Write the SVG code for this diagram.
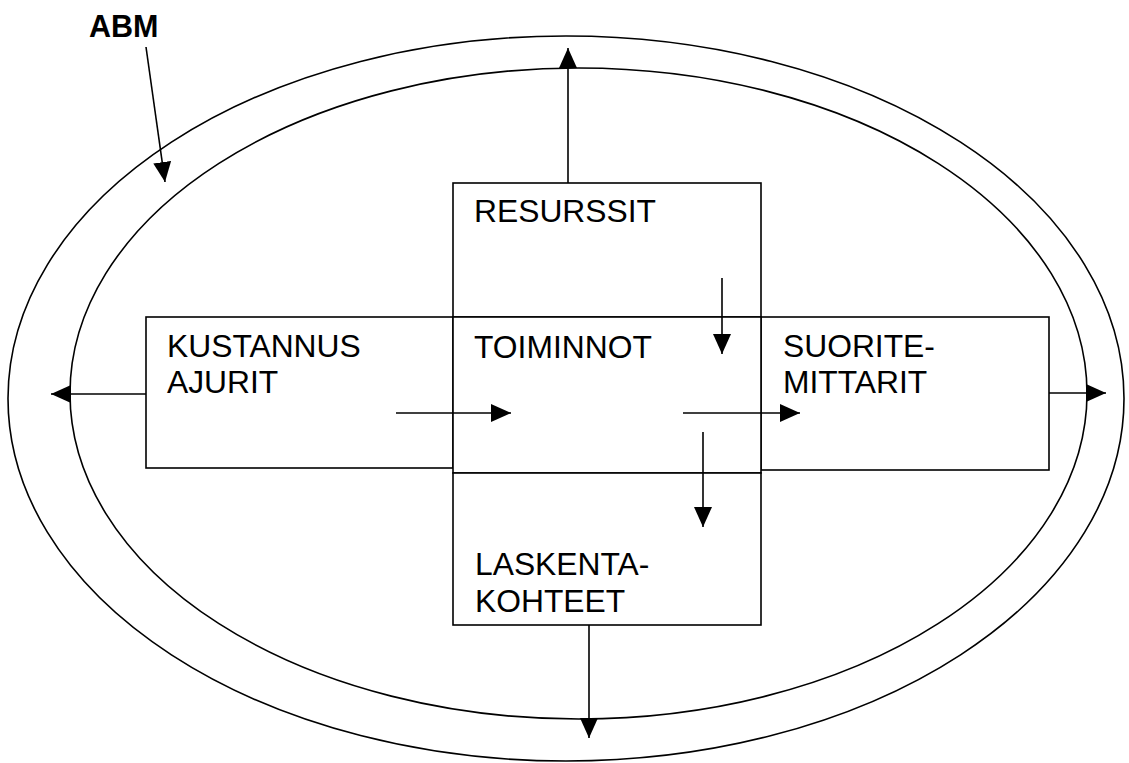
<svg xmlns="http://www.w3.org/2000/svg" width="1129" height="763" viewBox="0 0 1129 763">
<style>
.s{fill:none;stroke:#000;stroke-width:1.6}
.b{fill:#fff;stroke:#000;stroke-width:1.6}
.t{font-family:"Liberation Sans",Arial,sans-serif;font-size:31.8px;fill:#000}
.a{fill:none;stroke:#000;stroke-width:1.6;marker-end:url(#ah)}
</style>
<defs>
<marker id="ah" markerUnits="userSpaceOnUse" markerWidth="20" markerHeight="18" refX="20" refY="9" orient="auto" viewBox="0 0 20 18">
<path d="M0,0 L20,9 L0,18 z" fill="#000"/>
</marker>
</defs>
<rect width="1129" height="763" fill="#fff"/>
<g id="ellipses">
<ellipse class="s" cx="566" cy="398.5" rx="558" ry="362.5"/>
<ellipse class="s" cx="578.5" cy="393.5" rx="508.5" ry="325.5"/>
</g>
<g id="kustannus">
<rect class="b" x="146" y="317" width="307" height="151"/>
<text class="t" x="167" y="357">KUSTANNUS</text>
<text class="t" x="167" y="393">AJURIT</text>
</g>
<g id="suorite">
<rect class="b" x="761" y="317" width="288" height="153"/>
<text class="t" x="783" y="357">SUORITE-</text>
<text class="t" x="783" y="393">MITTARIT</text>
</g>
<g id="resurssit">
<rect class="b" x="453" y="183" width="308" height="134"/>
<text class="t" x="474" y="222">RESURSSIT</text>
</g>
<g id="toiminnot">
<rect class="b" x="453" y="317" width="308" height="156"/>
<text class="t" x="474" y="358">TOIMINNOT</text>
</g>
<g id="laskenta">
<rect class="b" x="453" y="473" width="308" height="152"/>
<text class="t" x="475" y="575">LASKENTA-</text>
<text class="t" x="475" y="612">KOHTEET</text>
</g>
<g id="abm">
<text class="t" x="89" y="37" style="font-weight:bold;font-size:30.5px">ABM</text>
</g>
<g id="connectors">
<line class="a" x1="146" y1="47" x2="165" y2="182"/>
<line class="a" x1="568" y1="183" x2="568" y2="48"/>
<line class="a" x1="146" y1="394" x2="51" y2="394"/>
<line class="a" x1="1049" y1="393" x2="1106" y2="393"/>
<line class="a" x1="589" y1="625" x2="589" y2="738"/>
<line class="a" x1="722" y1="278" x2="722" y2="354"/>
<line class="a" x1="396" y1="413" x2="511" y2="413"/>
<line class="a" x1="683" y1="413" x2="800" y2="413"/>
<line class="a" x1="703" y1="432" x2="703" y2="527"/>
</g>
</svg>
